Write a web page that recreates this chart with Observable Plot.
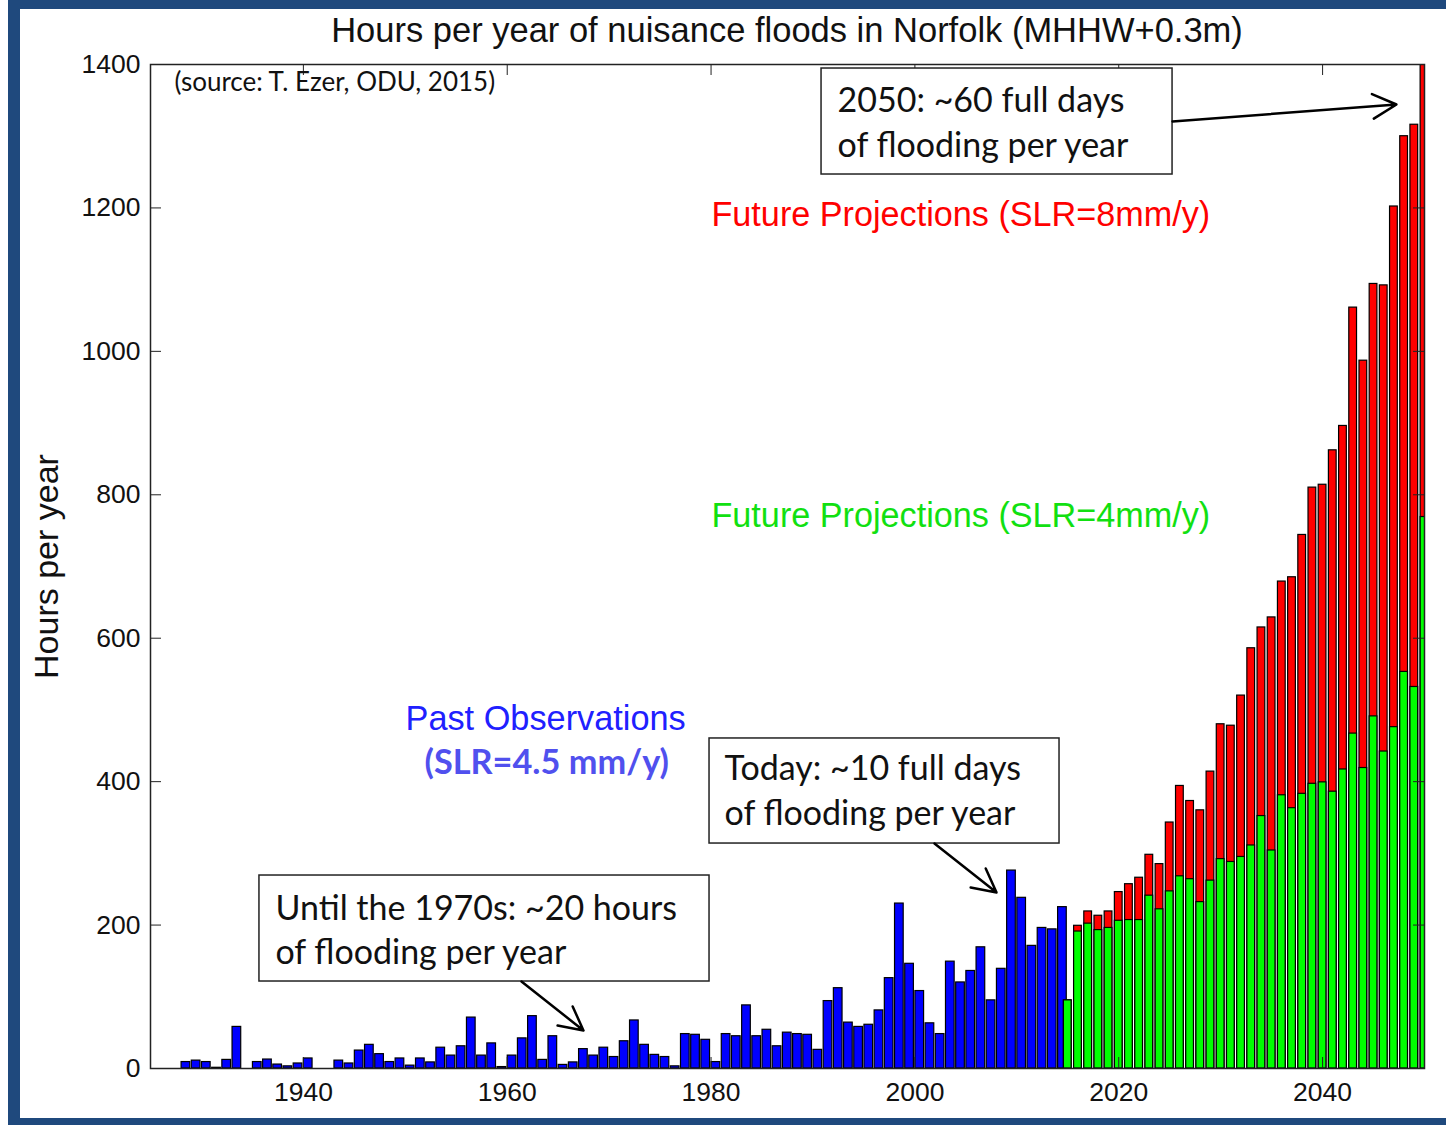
<!DOCTYPE html>
<html><head><meta charset="utf-8">
<script src="https://cdn.jsdelivr.net/npm/d3@7"></script>
<script src="https://cdn.jsdelivr.net/npm/@observablehq/plot@0.6"></script>
<style>
body{margin:0;background:#fff;}
#page{position:relative;width:1446px;height:1125px;overflow:hidden;background:#fff;}
.edge{position:absolute;background:#1f497d;}
#title{position:absolute;left:150px;width:1274px;top:10px;text-align:center;font-family:"Liberation Sans",Arial,sans-serif;font-size:34.5px;line-height:40px;color:#111;}
#chart{position:absolute;left:20px;top:50px;}
</style></head>
<body><div id="page">
<div class="edge" style="left:8px;top:0;width:12px;height:1125px"></div>
<div class="edge" style="left:8px;top:0;width:1438px;height:9px"></div>
<div class="edge" style="left:8px;top:1118px;width:1438px;height:7px"></div>
<div id="title">Hours per year of nuisance floods in Norfolk (MHHW+0.3m)</div>
<div id="chart"></div>
</div>
<script>
// ---- data ----
const obsStartYear = 1928;
const obsHours = [9,11,9,1,12,58,null,9,12.5,5.5,
  3,7,14,null,null,11,7,25,33,20,
  9,14,4,14,8.5,29,18,31,71,18,
  35,2,18,42,73,12,45,5,8.5,27,
  18,29,16,38,67,33,19,16,3,48,
  47,40,9,48,45,88,45,54,31,50,
  48,47,26,94,112,64,58,61,81,126,
  230,146,108,63,48,149,120,136,169,95,
  139,276,238,171,196,194,225];
const projStartYear = 2015;
const projSLR4 = [95,191,202,193,196,206,207,207,241,222,
  247,268,264,232,262,292,288,295,311,352,
  304,381,363,383,397,399,386,417,467,419,
  491,442,476,553,532,769];
const projSLR8 = [95,199,219,213,219,246,257,266,298,285,
  343,394,373,360,414,480,478,520,586,615,
  629,679,685,744,810,814,862,896,1061,987,
  1094,1092,1202,1300,1316,1400];
const xTicks = [1940,1960,1980,2000,2020,2040];
const yTicks = [0,200,400,600,800,1000,1200,1400];

const obs = obsHours.map((h, i) => ({year: obsStartYear + i, hours: h})).filter(d => d.hours != null);
const proj = projSLR4.map((v, i) => ({year: projStartYear + i, slr4: v, slr8: projSLR8[i]}));

// ---- layout ----
const W = 1420, H = 1068, mL = 130, mR = 16, mT = 14, mB = 50;
const plotW = W - mL - mR, plotH = H - mT - mB;
const calibri = 'Lato, "Open Sans", sans-serif';

const chart = Plot.plot({
  width: W, height: H,
  marginLeft: mL, marginRight: mR, marginTop: mT, marginBottom: mB,
  style: {fontFamily: '"Liberation Sans", Arial, sans-serif', background: "transparent", color: "#111"},
  x: {domain: [1925, 2050]},
  y: {domain: [0, 1400]},
  marks: [
    Plot.rectY(obs, {x1: d => d.year + 0.05, x2: d => d.year + 0.9, y1: 0, y2: "hours",
      fill: "#0000ff", stroke: "#000", strokeWidth: 1.2}),
    Plot.rectY(proj, {x1: d => d.year - 0.38, x2: d => d.year + 0.38, y1: 0, y2: "slr8",
      fill: "#ff0000", stroke: "#000", strokeWidth: 1.2, clip: true}),
    Plot.rectY(proj, {x1: d => d.year - 0.38, x2: d => d.year + 0.38, y1: 0, y2: "slr4",
      fill: "#00ff00", stroke: "#000", strokeWidth: 1.2, clip: true}),
    Plot.frame({stroke: "#222", strokeWidth: 1.5}),
    Plot.tickX(xTicks, {x: d => d, insetTop: plotH - 11, stroke: "#222"}),
    Plot.tickX(xTicks, {x: d => d, insetBottom: plotH - 11, stroke: "#222"}),
    Plot.tickY(yTicks, {y: d => d, insetRight: plotW - 11, stroke: "#222"}),
    Plot.tickY(yTicks, {y: d => d, insetLeft: plotW - 11, stroke: "#222"}),
    Plot.axisX(xTicks, {tickSize: 0, tickPadding: 14, tickFormat: d => String(d), fontSize: 26.5, label: null}),
    Plot.axisY(yTicks, {tickSize: 0, tickPadding: 10, tickFormat: d => String(d), fontSize: 26.5, label: null}),
    Plot.text(["Hours per year"], {frameAnchor: "left", textAnchor: "middle", rotate: -90, dx: -103, fontSize: 34, fill: "#111"}),
    // source note
    Plot.text(["(source: T. Ezer, ODU, 2015)"], {x: 1927.35, y: 1375, textAnchor: "start", fontSize: 26, fontFamily: calibri, fill: "#111"}),
    // series labels
    Plot.text(["Future Projections (SLR=8mm/y)"], {x: 1980.04, y: 1189.5, textAnchor: "start", fontSize: 34.2, fill: "#ff0000"}),
    Plot.text(["Future Projections (SLR=4mm/y)"], {x: 1980.04, y: 769.7, textAnchor: "start", fontSize: 34.2, fill: "#11e011"}),
    Plot.text(["Past Observations"], {x: 1950.02, y: 488, textAnchor: "start", fontSize: 34.3, fill: "#2020ff"}),
    Plot.text(["(SLR=4.5 mm/y)"], {x: 1951.88, y: 425.3, textAnchor: "start", fontSize: 34.3, fontWeight: "bold", fontFamily: calibri, fill: "#5050ee"}),
    // annotation boxes
    Plot.rect([0], {x1: 1935.69, x2: 1979.85, y1: 121.3, y2: 269.1, fill: "#fff", stroke: "#222", strokeWidth: 1.5}),
    Plot.rect([0], {x1: 1979.85, x2: 2014.19, y1: 313.7, y2: 460.2, fill: "#fff", stroke: "#222", strokeWidth: 1.5}),
    Plot.rect([0], {x1: 1990.84, x2: 2025.28, y1: 1246.6, y2: 1394.4, fill: "#fff", stroke: "#222", strokeWidth: 1.5}),
    Plot.text(["Until the 1970s: ~20 hours\nof flooding per year"], {x: 1937.26, y: 196.5, textAnchor: "start", fontSize: 34, lineHeight: 1.32, fontFamily: calibri, fill: "#111"}),
    Plot.text(["Today: ~10 full days\nof flooding per year"], {x: 1981.32, y: 390.5, textAnchor: "start", fontSize: 34, lineHeight: 1.32, fontFamily: calibri, fill: "#111"}),
    Plot.text(["2050: ~60 full days\nof flooding per year"], {x: 1992.41, y: 1322.5, textAnchor: "start", fontSize: 34, lineHeight: 1.32, fontFamily: calibri, fill: "#111"}),
    Plot.arrow([0], {x1: 1961.40, y1: 121.3, x2: 1967.48, y2: 53.0, stroke: "#000", strokeWidth: 2.5, headLength: 16, headAngle: 55}),
    Plot.arrow([0], {x1: 2001.92, y1: 313.7, x2: 2008.01, y2: 245.4, stroke: "#000", strokeWidth: 2.5, headLength: 16, headAngle: 55}),
    Plot.arrow([0], {x1: 2025.28, y1: 1320.5, x2: 2047.25, y2: 1344.2, stroke: "#000", strokeWidth: 2.5, headLength: 16, headAngle: 55})
  ]
});
document.getElementById("chart").appendChild(chart);
</script>
</body></html>
